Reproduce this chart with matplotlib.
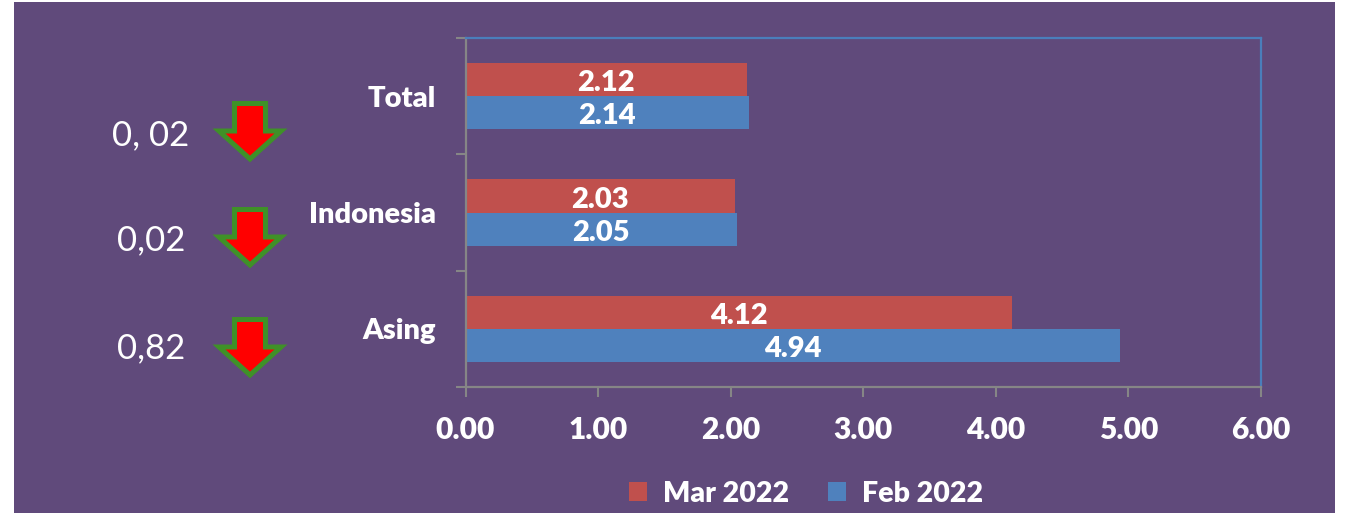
import numpy as np
import matplotlib
matplotlib.use("Agg")
import matplotlib.pyplot as plt
from matplotlib.patches import Rectangle, Polygon

plt.rcParams['font.family'] = ['Lato', 'DejaVu Sans']

# data, bottom to top like the chart
categories = ["Asing", "Indonesia", "Total"]
mar_2022 = [4.12, 2.03, 2.12]
feb_2022 = [4.94, 2.05, 2.14]
delta_labels = ["0,82", "0,02", "0, 02"]
x_ticks = [0, 1, 2, 3, 4, 5, 6]

W, H = 1345, 513
PURPLE = "#604A7B"
RED = "#C0504D"
BLUE = "#4F81BD"
GREY = "#868686"
FRAME = "#4A7EBB"
WEIGHT = 800

fig = plt.figure(figsize=(W / 100, H / 100), dpi=100, facecolor="white")
fig.patches.append(Rectangle((14 / W, 0), 1321 / W, 511 / H, transform=fig.transFigure,
                             facecolor=PURPLE, edgecolor="none", zorder=-10))

# plot area in pixels: x 465.5-1261, y 38-387
ax = fig.add_axes([465.5 / W, 1 - 387 / H, 795.5 / W, 349 / H])
ax.patch.set_alpha(0)

y = np.arange(len(categories)) + 0.5
bar_h = 0.284
bars_mar = ax.barh(y + bar_h / 2, mar_2022, bar_h, color=RED, label="Mar 2022", zorder=1)
bars_feb = ax.barh(y - bar_h / 2, feb_2022, bar_h, color=BLUE, label="Feb 2022", zorder=1)

for bars in (bars_mar, bars_feb):
    for t in ax.bar_label(bars, fmt="%.2f", label_type="center", color="white",
                          fontsize=21, fontweight=WEIGHT):
        t.xyann = (0, -2.6)

ax.set_xlim(0, 6)
ax.set_ylim(0, 3)

ax.set_xticks(x_ticks)
ax.set_xticklabels(["%.2f" % v for v in x_ticks], color="white", fontsize=21.5, fontweight=WEIGHT)
ax.tick_params(axis="x", length=7.5, width=1.5, color=GREY, pad=13.5)

# ticks sit between the categories, labels in the middle
ax.set_yticks([0, 1, 2, 3])
ax.set_yticklabels([])
ax.tick_params(axis="y", which="major", length=7.5, width=1.5, color=GREY)
ax.set_yticks(y, minor=True)
ax.set_yticklabels(categories, minor=True, color="white", fontsize=21, fontweight=WEIGHT)
ax.tick_params(axis="y", which="minor", length=0, pad=21)

ax.spines["left"].set_color(GREY)
ax.spines["bottom"].set_color(GREY)
ax.spines["top"].set_color(FRAME)
ax.spines["right"].set_color(FRAME)
for s in ax.spines.values():
    s.set_linewidth(1.6)

handles = [bars_mar, bars_feb]
fig.legend(handles, ["Mar 2022", "Feb 2022"], loc="center", bbox_to_anchor=(806 / W, 1 - 493.5 / H),
           ncol=2, frameon=False, labelcolor="white",
           prop={"weight": WEIGHT, "size": 20.5}, handlelength=0.64, handleheight=0.64,
           handletextpad=0.55, columnspacing=1.35)

# overlay in pixel coordinates for the arrows and the differences
over = fig.add_axes([0, 0, 1, 1])
over.set_xlim(0, W)
over.set_ylim(H, 0)
over.axis("off")

arrow_tops = [317, 207, 101]
delta_y = [348, 240, 135]
for top, dy, label in zip(arrow_tops, delta_y, delta_labels):
    pts = [(234.5, top + 2.5), (265.5, top + 2.5), (265.5, top + 30), (281, top + 30),
           (250, top + 58), (219, top + 30), (234.5, top + 30)]
    over.add_patch(Polygon(pts, closed=True, facecolor="#FF0000", edgecolor="#3F9128",
                           linewidth=3.6, joinstyle="miter"))
    over.text(151, dy, label, color="white", fontsize=25, ha="center", va="center")

fig.savefig("out.png", dpi=100, facecolor="white")
